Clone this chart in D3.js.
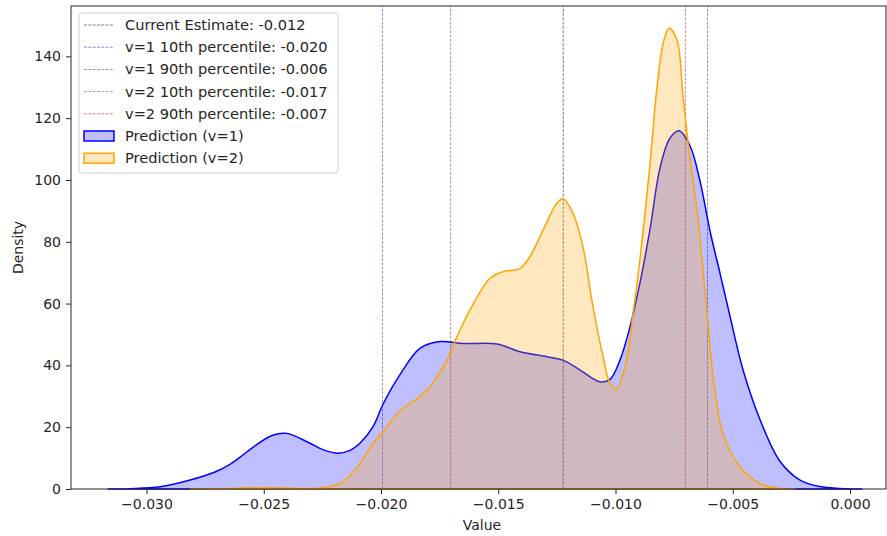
<!DOCTYPE html>
<html>
<head>
<meta charset="utf-8">
<script src="https://cdn.jsdelivr.net/npm/d3@7"></script>
<style>
  body { margin: 0; background: #fff; }
  text { font-family: "DejaVu Sans", sans-serif; }
</style>
</head>
<body>
<div id="chart"></div>
<script>
// 画布大小
const width = 887, height = 536;
const margin = { top: 6, right: 1, bottom: 47, left: 71 };

// KDE 曲线（从图上读取的点）
const v1Values = [-0.03164, -0.03070, -0.02942, -0.02814, -0.02708, -0.02644, -0.02601, -0.02546, -0.02465, -0.02401,
  -0.02303, -0.02239, -0.02183, -0.02132, -0.02090, -0.02034, -0.01991, -0.01919, -0.01834, -0.01748,
  -0.01650, -0.01505, -0.01407, -0.01292, -0.01224, -0.01151, -0.01066, -0.01023, -0.00981, -0.00938,
  -0.00896, -0.00853, -0.00810, -0.00768, -0.00729, -0.00682, -0.00640, -0.00597, -0.00554, -0.00512,
  -0.00456, -0.00384, -0.00299, -0.00213, -0.00128, -0.00043, 0.00051];
const v1Density = [0, 0.1, 0.7, 2.9, 5.5, 8.0, 10.3, 13.5, 17.3, 18.0,
  14.8, 12.5, 11.6, 12.5, 14.8, 20.2, 27.5, 37.0, 45.5, 47.7,
  47.1, 46.9, 44.4, 42.8, 41.7, 38.5, 34.7, 35.5, 41.7, 52.5,
  66.6, 84.0, 104.0, 113.5, 115.9, 111.0, 99.8, 83.5, 69.7, 56.0,
  38.5, 22.5, 9.0, 2.9, 0.8, 0.2, 0];

const v2Values = [-0.02814, -0.02644, -0.02486, -0.02345, -0.02260, -0.02175, -0.02102, -0.02034, -0.01991, -0.01919,
  -0.01834, -0.01791, -0.01719, -0.01676, -0.01621, -0.01535, -0.01480, -0.01407, -0.01365, -0.01309,
  -0.01250, -0.01224, -0.01181, -0.01139, -0.01096, -0.01053, -0.01023, -0.00998, -0.00959, -0.00925,
  -0.00896, -0.00853, -0.00823, -0.00797, -0.00772, -0.00738, -0.00712, -0.00682, -0.00652, -0.00610,
  -0.00580, -0.00542, -0.00469, -0.00384, -0.00299, -0.00235];
const v2Density = [0, 0.2, 0.4, 0.2, 0.3, 1.8, 7.0, 14.8, 18.6, 25.3,
  29.9, 33.1, 41.7, 49.3, 57.9, 68.2, 70.3, 71.4, 75.2, 83.8,
  92.5, 93.9, 89.2, 78.4, 59.0, 42.8, 34.0, 32.3, 39.6, 56.9,
  74.1, 105.0, 130.2, 144.2, 149.1, 145.3, 127.0, 106.5, 90.0, 57.0,
  34.2, 18.0, 7.2, 1.8, 0.2, 0];

// 参考线
const refValues = [-0.01223, -0.01994, -0.00608, -0.01703, -0.00702];
const refLabels = ["Current Estimate: -0.012", "v=1 10th percentile: -0.020", "v=1 90th percentile: -0.006",
  "v=2 10th percentile: -0.017", "v=2 90th percentile: -0.007"];
const refColors = ["#333333", "#4a4aa8", "#4a4aa8", "#a84a4a", "#a84a4a"];

const seriesLabels = ["Prediction (v=1)", "Prediction (v=2)"];
const seriesColors = ["blue", "orange"];

const xTicks = [-0.030, -0.025, -0.020, -0.015, -0.010, -0.005, 0.000];
const yTicks = [0, 20, 40, 60, 80, 100, 120, 140];

const svg = d3.select("#chart").append("svg")
  .attr("width", width)
  .attr("height", height);

const x = d3.scaleLinear().domain([-0.03322, 0.001535]).range([margin.left, width - margin.right]);
const y = d3.scaleLinear().domain([0, 156.3]).range([height - margin.bottom, margin.top]);

// 参考竖线（先画，在填充下面）
refValues.forEach((v, i) => {
  svg.append("line")
    .attr("x1", x(v)).attr("x2", x(v))
    .attr("y1", y.range()[0]).attr("y2", y.range()[1])
    .attr("stroke", refColors[i])
    .attr("stroke-width", 0.8)
    .attr("stroke-dasharray", "3,1.3")
    .attr("opacity", 0.8);
});

// KDE 面积
const series = [
  v1Values.map((v, i) => [v, v1Density[i]]),
  v2Values.map((v, i) => [v, v2Density[i]])
];
const area = d3.area()
  .x(d => x(d[0]))
  .y0(y(0))
  .y1(d => Math.min(y(0), y(d[1])))
  .curve(d3.curveCatmullRom.alpha(0.5));

series.forEach((pts, i) => {
  svg.append("path")
    .datum(pts)
    .attr("d", area)
    .attr("fill", seriesColors[i])
    .attr("fill-opacity", 0.25)
    .attr("stroke", seriesColors[i])
    .attr("stroke-width", 1.5)
    .attr("stroke-linejoin", "round");
});

// 坐标轴
const xAxis = svg.append("g")
  .attr("transform", `translate(0,${height - margin.bottom})`)
  .call(d3.axisBottom(x).tickValues(xTicks).tickFormat(d3.format(".3f")).tickSizeOuter(0).tickSize(5).tickPadding(5));
const yAxis = svg.append("g")
  .attr("transform", `translate(${margin.left},0)`)
  .call(d3.axisLeft(y).tickValues(yTicks).tickSizeOuter(0).tickSize(5).tickPadding(5));
[xAxis, yAxis].forEach(a => {
  a.selectAll("text").attr("font-size", 14).attr("fill", "#262626").attr("font-family", "DejaVu Sans, sans-serif");
  a.selectAll("line").attr("stroke", "#262626");
  a.select(".domain").remove();
});

// 边框
svg.append("rect")
  .attr("x", margin.left).attr("y", margin.top)
  .attr("width", width - margin.right - margin.left)
  .attr("height", height - margin.bottom - margin.top)
  .attr("fill", "none")
  .attr("stroke", "#262626")
  .attr("stroke-width", 1);

// 轴标题
svg.append("text")
  .attr("x", 482)
  .attr("y", 530)
  .attr("text-anchor", "middle")
  .attr("font-size", 14)
  .attr("fill", "#262626")
  .text("Value");
svg.append("text")
  .attr("transform", `translate(23,${(y.range()[0] + y.range()[1]) / 2}) rotate(-90)`)
  .attr("text-anchor", "middle")
  .attr("font-size", 14)
  .attr("fill", "#262626")
  .text("Density");

// 图例
const legend = svg.append("g").attr("transform", "translate(79,13)");
legend.append("rect")
  .attr("width", 259).attr("height", 160)
  .attr("rx", 3)
  .attr("fill", "white").attr("fill-opacity", 0.8)
  .attr("stroke", "#d0d0d0");
refLabels.forEach((lab, i) => {
  const yy = 12 + i * 22.2;
  legend.append("line")
    .attr("x1", 5).attr("x2", 35)
    .attr("y1", yy).attr("y2", yy)
    .attr("stroke", refColors[i])
    .attr("stroke-width", 0.8)
    .attr("stroke-dasharray", "3,1.3")
    .attr("opacity", 0.8);
  legend.append("text")
    .attr("x", 46).attr("y", yy + 5)
    .attr("font-size", 14.6).attr("fill", "#262626")
    .text(lab);
});
seriesLabels.forEach((lab, i) => {
  const yy = 12 + (i + 5) * 22.2;
  legend.append("rect")
    .attr("x", 5).attr("y", yy - 5)
    .attr("width", 30).attr("height", 10)
    .attr("fill", seriesColors[i]).attr("fill-opacity", 0.25)
    .attr("stroke", seriesColors[i]).attr("stroke-width", 1.5);
  legend.append("text")
    .attr("x", 46).attr("y", yy + 5)
    .attr("font-size", 14.6).attr("fill", "#262626")
    .text(lab);
});
</script>
</body>
</html>
